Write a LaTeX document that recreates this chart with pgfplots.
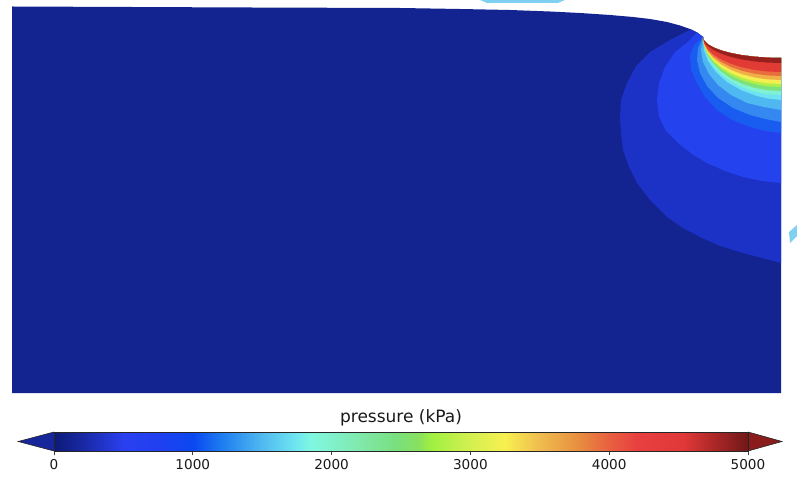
\documentclass[border=0pt]{standalone}
\usepackage{fontspec}
\setmainfont{DejaVu Sans}
\usepackage{pgfplots}
\pgfplotsset{compat=1.18}
\usepgfplotslibrary{patchplots}
\definecolor{cnavy}{RGB}{19,35,143}
\definecolor{cband}{RGB}{28,50,198}
\definecolor{cbright}{RGB}{36,66,238}
\definecolor{cblue}{RGB}{24,92,240}
\definecolor{cmid}{RGB}{52,136,240}
\definecolor{clight}{RGB}{80,184,240}
\definecolor{ccyan}{RGB}{110,228,240}
\definecolor{caqua}{RGB}{128,242,212}
\definecolor{cgreen}{RGB}{126,226,124}
\definecolor{cyg}{RGB}{176,240,70}
\definecolor{cyellow}{RGB}{244,238,82}
\definecolor{corange}{RGB}{240,176,72}
\definecolor{cored}{RGB}{232,110,62}
\definecolor{cred}{RGB}{226,58,52}
\definecolor{cdred}{RGB}{150,32,30}
\definecolor{cart}{RGB}{128,208,242}
\definecolor{tleft}{RGB}{24,38,156}
\definecolor{tright}{RGB}{138,28,28}
\begin{document}
\begin{tikzpicture}
\begin{axis}[
  scale only axis, width=797pt, height=478pt,
  xmin=0, xmax=797, ymin=0, ymax=478, y dir=reverse,
  hide axis, clip=false]
% domain (lowest level)
\addplot[fill=cnavy, draw=none] coordinates {(12,393) (12,6.5) (250,7.5) (400,8) (460,9) (510,10) (550,11.5) (580,13) (610,15) (633,17) (650,19) (667,22) (680,25.5) (690,29) (697,32.5) (703,37) (704.2,40.7) (707.7,44.2) (713.5,47.5) (721.3,50.5) (730.9,53.1) (742,55.2) (754.3,56.7) (767.4,57.7) (781,58) (781,393)};
% level 2
\addplot[fill=cband, draw=none] coordinates {(691,29.5) (670,40) (650,52) (636,66) (627,83) (621,100) (620,117) (621,134) (623,150) (629,167) (637,183) (650,200) (667,217) (683,228) (700,237) (720,246) (743,253) (762,258) (781,263) (781,58) (767.4,57.7) (754.3,56.7) (742,55.2) (730.9,53.1) (721.3,50.5) (713.5,47.5) (707.7,44.2) (704.2,40.7) (703,37) (697,32.5)};
% level 3
\addplot[fill=cbright, draw=none] coordinates {(697,32.5) (688,42) (675,52) (665,67) (659,83) (657,100) (659,117) (666,131) (678,143) (692,154) (707,163) (725,171) (743,177) (762,181) (781,183) (781,58) (767.4,57.7) (754.3,56.7) (742,55.2) (730.9,53.1) (721.3,50.5) (713.5,47.5) (707.7,44.2) (704.2,40.7) (703,37)};
% level 4
\addplot[fill=cblue, draw=none] coordinates {(703,37) (694,45) (690,55) (691,70) (697,83) (705,97) (717,110) (732,120) (750,127) (765,131) (781,133) (781,58) (767.4,57.7) (754.3,56.7) (742,55.2) (730.9,53.1) (721.3,50.5) (713.5,47.5) (707.7,44.2) (704.2,40.7)};
% level 5
\addplot[fill=cmid, draw=none] coordinates {(703,37) (698,48) (697,60) (700,73) (707,86) (718,98) (733,108) (750,115) (765,119) (781,122) (781,58) (767.4,57.7) (754.3,56.7) (742,55.2) (730.9,53.1) (721.3,50.5) (713.5,47.5) (707.7,44.2) (704.2,40.7)};
% level 6
\addplot[fill=clight, draw=none] coordinates {(703,37) (701,50) (703,62) (709,74) (718,85) (731,95) (747,103) (764,107) (781,110) (781,58) (767.4,57.7) (754.3,56.7) (742,55.2) (730.9,53.1) (721.3,50.5) (713.5,47.5) (707.7,44.2) (704.2,40.7)};
% level 7
\addplot[fill=ccyan, draw=none] coordinates {(703,37) (704,50) (708,61) (716,72) (727,82) (741,90) (757,96) (768,98.5) (781,100) (781,58) (767.4,57.7) (754.3,56.7) (742,55.2) (730.9,53.1) (721.3,50.5) (713.5,47.5) (707.7,44.2) (704.2,40.7)};
% level 8
\addplot[fill=caqua, draw=none] coordinates {(703,37) (704.2,47.1) (707.7,56.8) (713.5,66) (721.3,74.3) (730.9,81.4) (742,87.2) (754.3,91.5) (767.4,94.1) (781,95) (781,58) (767.4,57.7) (754.3,56.7) (742,55.2) (730.9,53.1) (721.3,50.5) (713.5,47.5) (707.7,44.2) (704.2,40.7)};
% level 9
\addplot[fill=cgreen, draw=none] coordinates {(703,37) (704.2,46.4) (707.7,55.5) (713.5,64) (721.3,71.7) (730.9,78.4) (742,83.8) (754.3,87.8) (767.4,90.2) (781,91) (781,58) (767.4,57.7) (754.3,56.7) (742,55.2) (730.9,53.1) (721.3,50.5) (713.5,47.5) (707.7,44.2) (704.2,40.7)};
% level 10
\addplot[fill=cyg, draw=none] coordinates {(703,37) (704.2,45.7) (707.7,54.1) (713.5,62) (721.3,69.2) (730.9,75.3) (742,80.3) (754.3,84) (767.4,86.3) (781,87) (781,58) (767.4,57.7) (754.3,56.7) (742,55.2) (730.9,53.1) (721.3,50.5) (713.5,47.5) (707.7,44.2) (704.2,40.7)};
% level 11
\addplot[fill=cyellow, draw=none] coordinates {(703,37) (704.2,45.2) (707.7,53.1) (713.5,60.5) (721.3,67.2) (730.9,73) (742,77.7) (754.3,81.2) (767.4,83.3) (781,84) (781,58) (767.4,57.7) (754.3,56.7) (742,55.2) (730.9,53.1) (721.3,50.5) (713.5,47.5) (707.7,44.2) (704.2,40.7)};
% level 12
\addplot[fill=corange, draw=none] coordinates {(703,37) (704.2,44.5) (707.7,51.7) (713.5,58.5) (721.3,64.6) (730.9,69.9) (742,74.2) (754.3,77.4) (767.4,79.4) (781,80) (781,58) (767.4,57.7) (754.3,56.7) (742,55.2) (730.9,53.1) (721.3,50.5) (713.5,47.5) (707.7,44.2) (704.2,40.7)};
% level 13
\addplot[fill=cored, draw=none] coordinates {(703,37) (704.2,43.8) (707.7,50.3) (713.5,56.5) (721.3,62.1) (730.9,66.9) (742,70.8) (754.3,73.7) (767.4,75.4) (781,76) (781,58) (767.4,57.7) (754.3,56.7) (742,55.2) (730.9,53.1) (721.3,50.5) (713.5,47.5) (707.7,44.2) (704.2,40.7)};
% level 14
\addplot[fill=cred, draw=none] coordinates {(703,37) (704.2,43.1) (707.7,49) (713.5,54.5) (721.3,59.5) (730.9,63.8) (742,67.3) (754.3,69.9) (767.4,71.5) (781,72) (781,58) (767.4,57.7) (754.3,56.7) (742,55.2) (730.9,53.1) (721.3,50.5) (713.5,47.5) (707.7,44.2) (704.2,40.7)};
% level 15
\addplot[fill=cdred, draw=none] coordinates {(703,37) (704.2,41.5) (707.7,45.9) (713.5,50) (721.3,53.7) (730.9,56.9) (742,59.5) (754.3,61.4) (767.4,62.6) (781,63) (781,58) (767.4,57.7) (754.3,56.7) (742,55.2) (730.9,53.1) (721.3,50.5) (713.5,47.5) (707.7,44.2) (704.2,40.7)};
% stray light-blue slivers at the edges
\addplot[fill=cart, draw=none] coordinates {(480,0) (565,0) (558,3) (487,3)};
\addplot[fill=cart, draw=none] coordinates {(789,232) (797,225) (797,236) (790,243)};
\end{axis}
\begin{axis}[
  at={(54pt,27pt)}, anchor=south west,
  scale only axis, width=694pt, height=19pt,
  xmin=0, xmax=5000, ymin=0, ymax=1, clip=false, axis on top,
  axis line style={black!85, line width=0.6pt},
  ytick=\empty, xtick={0,1000,2000,3000,4000,5000},
  xtick pos=bottom, tick align=outside, major tick length=4.5pt,
  xtick style={black!75, line width=0.7pt},
  xticklabel style={font=\fontsize{13.6}{16}\selectfont, text=black!90},
  /pgf/number format/assume math mode=true,
  /pgf/number format/1000 sep={},
  colormap={pres}{rgb255(0pt)=(12,26,120) rgb255(23pt)=(26,42,168) rgb255(50pt)=(42,64,240) rgb255(76pt)=(32,64,240) rgb255(100pt)=(10,72,240) rgb255(122pt)=(32,128,240) rgb255(149pt)=(80,184,240) rgb255(175pt)=(112,232,240) rgb255(185pt)=(128,248,224) rgb255(202pt)=(128,240,200) rgb255(222pt)=(128,232,168) rgb255(245pt)=(120,224,128) rgb255(262pt)=(136,224,96) rgb255(272pt)=(160,240,64) rgb255(298pt)=(208,240,80) rgb255(325pt)=(248,240,80) rgb255(348pt)=(240,192,80) rgb255(377pt)=(232,144,64) rgb255(400pt)=(232,96,64) rgb255(420pt)=(232,64,64) rgb255(454pt)=(224,56,56) rgb255(474pt)=(176,40,40) rgb255(500pt)=(112,24,24)},
  point meta min=0, point meta max=5000]
\addplot[patch, patch type=rectangle, shader=interp, point meta=x] coordinates {
(0,0) (1000,0) (1000,1) (0,1)
(1000,0) (2000,0) (2000,1) (1000,1)
(2000,0) (3000,0) (3000,1) (2000,1)
(3000,0) (4000,0) (4000,1) (3000,1)
(4000,0) (5000,0) (5000,1) (4000,1)};
\addplot[fill=tleft, draw=black!85, line width=0.6pt] coordinates {(0,0) (-258,0.5) (0,1)};
\addplot[fill=tright, draw=black!85, line width=0.6pt] coordinates {(5000,0) (5245,0.5) (5000,1)};
\node[font=\fontsize{17}{20}\selectfont, text=black!90, anchor=center, yshift=14pt] at (axis cs:2500,1) {pressure (kPa)};
\end{axis}
\useasboundingbox (0,0) rectangle (797pt,478pt);
\end{tikzpicture}
\end{document}
